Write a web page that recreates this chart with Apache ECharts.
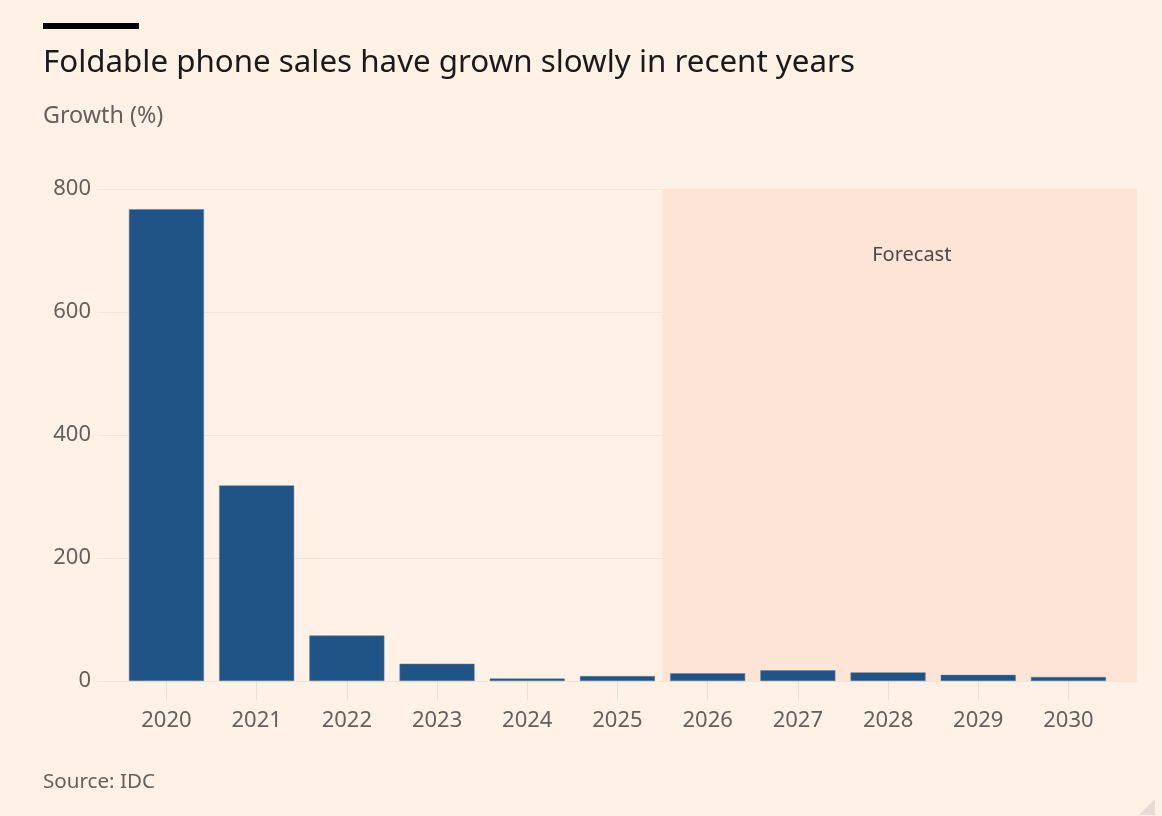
<!DOCTYPE html>
<html>
<head>
<meta charset="utf-8">
<script src="https://cdn.jsdelivr.net/npm/echarts@6/dist/echarts.min.js"></script>
<style>
html,body{margin:0;padding:0;background:#fff1e5;}
#chart{width:1162px;height:816px;}
</style>
</head>
<body>
<div id="chart"></div>
<script>
const years = [2020, 2021, 2022, 2023, 2024, 2025, 2026, 2027, 2028, 2029, 2030];
const growth = [767, 318, 74, 28, 4, 8, 12.5, 17.5, 14, 10, 6.5];
const yTicks = [0, 200, 400, 600, 800];
const forecastStart = 2025.5;
const titleText = 'Foldable phone sales have grown slowly in recent years';
const subtitleText = 'Growth (%)';
const sourceText = 'Source: IDC';
const forecastLabel = 'Forecast';

const xMin = 2019.23, xMax = 2030.76;
const FONT = '"Noto Sans", sans-serif';
const grey = '#66605c';

const chart = echarts.init(document.getElementById('chart'));
chart.setOption({
  backgroundColor: '#fff1e5',
  animation: false,
  textStyle: { fontFamily: FONT },
  title: [
    { text: titleText, left: 38, top: 43, textStyle: { fontFamily: FONT, fontSize: 31.3, fontWeight: 'normal', color: '#1a1a1a' } },
    { text: subtitleText, left: 38, top: 100, textStyle: { fontFamily: FONT, fontSize: 23.3, fontWeight: 'normal', color: grey } },
    { text: sourceText, left: 38, top: 767, textStyle: { fontFamily: FONT, fontSize: 20.6, fontWeight: 'normal', color: grey } }
  ],
  graphic: [
    { type: 'rect', left: 43, top: 23, shape: { width: 96, height: 6 }, style: { fill: '#000' } },
    { type: 'polygon', shape: { points: [[1155, 799], [1155, 815], [1139, 815]] }, style: { fill: '#e6dcd3' } }
  ],
  grid: { left: 97, right: 25, top: 189, bottom: 135 },
  xAxis: {
    type: 'value',
    min: xMin,
    max: xMax,
    splitLine: { show: false },
    axisLine: { show: false },
    axisTick: { show: true, customValues: years, length: 19, lineStyle: { color: '#eaddd2', width: 1 } },
    axisLabel: { customValues: years, margin: 29, fontSize: 22, color: grey, fontFamily: FONT, formatter: v => String(v) }
  },
  yAxis: {
    type: 'value',
    min: 0,
    max: 800,
    interval: 200,
    axisLine: { show: false },
    axisTick: { show: false },
    axisLabel: { margin: 6, fontSize: 22, color: grey, fontFamily: FONT, customValues: yTicks, padding: [4, 0, 0, 0] },
    splitLine: { show: true, lineStyle: { color: '#f3e4d8', width: 1 } }
  },
  series: [{
    type: 'bar',
    data: years.map((y, i) => [y, growth[i]]),
    barWidth: 75,
    itemStyle: { color: '#205487', borderColor: '#5a7c9e', borderWidth: 0.5 },
    markArea: {
      silent: true,
      itemStyle: { color: '#fde4d7' },
      label: {
        show: true,
        position: 'insideTop',
        distance: 56,
        offset: [12, 0],
        fontSize: 20,
        color: '#4d4845',
        fontFamily: FONT
      },
      data: [[{ name: forecastLabel, xAxis: forecastStart }, { xAxis: xMax }]]
    }
  }]
});
</script>
</body>
</html>
